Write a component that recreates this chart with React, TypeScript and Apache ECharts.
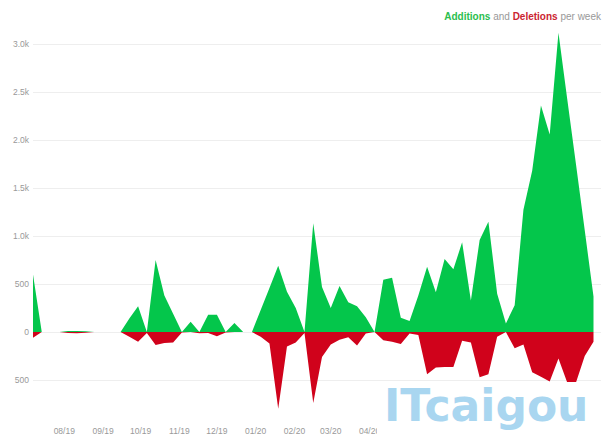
import React, { useEffect, useRef } from 'react';
import * as echarts from 'echarts';

// Week start dates (Sundays)
const weeks: string[] = [
  '2019-07-07', '2019-07-14', '2019-07-21', '2019-07-28', '2019-08-04', '2019-08-11', '2019-08-18', '2019-08-25',
  '2019-09-01', '2019-09-08', '2019-09-15', '2019-09-22', '2019-09-29', '2019-10-06', '2019-10-13', '2019-10-20',
  '2019-10-27', '2019-11-03', '2019-11-10', '2019-11-17', '2019-11-24', '2019-12-01', '2019-12-08', '2019-12-15',
  '2019-12-22', '2019-12-29', '2020-01-05', '2020-01-12', '2020-01-19', '2020-01-26', '2020-02-02', '2020-02-09',
  '2020-02-16', '2020-02-23', '2020-03-01', '2020-03-08', '2020-03-15', '2020-03-22', '2020-03-29', '2020-04-05',
  '2020-04-12', '2020-04-19', '2020-04-26', '2020-05-03', '2020-05-10', '2020-05-17', '2020-05-24', '2020-05-31',
  '2020-06-07', '2020-06-14', '2020-06-21', '2020-06-28', '2020-07-05', '2020-07-12', '2020-07-19', '2020-07-26',
  '2020-08-02', '2020-08-09', '2020-08-16', '2020-08-23', '2020-08-30', '2020-09-06', '2020-09-13', '2020-09-20',
  '2020-09-27',
];

const additions: number[] = [
  600, 0, 0, 0, 10, 12, 8, 0,
  0, 0, 0, 140, 270, 0, 750, 380,
  190, 0, 108, 0, 180, 180, 0, 95,
  0, 0, 230, 460, 690, 420, 250, 0,
  1135, 470, 250, 480, 310, 270, 155, 0,
  545, 565, 150, 115, 380, 680, 415, 760,
  655, 935, 330, 960, 1150, 400, 90, 280,
  1275, 1680, 2360, 2060, 3120, 2430, 1750, 1060,
  370,
];

const deletions: number[] = [
  -60, 0, 0, 0, -10, -12, -8, 0,
  0, 0, 0, -50, -100, -10, -135, -115,
  -110, -5, 0, -12, -10, -45, -5, 0,
  0, 0, -50, -120, -800, -150, -110, -10,
  -740, -260, -130, -80, -55, -140, -15, 0,
  -85, -100, -125, -15, -30, -440, -370, -365,
  -365, -90, -110, -470, -440, -50, 0, -170,
  -130, -420, -465, -515, -275, -525, -525, -250,
  -100,
];

const xMin = '2019-07-07';
const xMax = '2020-10-03';
const yMin = -1000;
const yMax = 3200;
const yStep = 500;

const GREEN = '#04c64b';
const RED = '#d0021b';

const toTime = (s: string) => {
  const [y, m, d] = s.split('-').map(Number);
  return Date.UTC(y, m - 1, d);
};

export default function App() {
  const ref = useRef<HTMLDivElement>(null);
  useEffect(() => {
    document.body.style.margin = '0';
    if (!ref.current) return;
    const chart = echarts.init(ref.current, undefined, { renderer: 'svg' });
    const fmtY = (v: number) => {
      if (v === yMin || v === yMax) return '';
      const a = Math.abs(v);
      return a >= 1000 ? (a / 1000).toFixed(1) + 'k' : String(a);
    };
    const fmtX = (v: number) => {
      const d = new Date(v + 12 * 3600000);
      const mo = d.getUTCMonth() + 1;
      const yr = d.getUTCFullYear() % 100;
      // months after April 2020 sit under the watermark panel
      if (yr === 20 && mo > 4) return '';
      return String(mo).padStart(2, '0') + '/' + String(yr).padStart(2, '0');
    };
    const font = "'Liberation Sans', Arial, sans-serif";
    chart.setOption({
      animation: false,
      textStyle: { fontFamily: font },
      grid: { left: 33, right: 6, top: 25, bottom: 18, containLabel: false },
      xAxis: {
        type: 'time',
        min: toTime(xMin),
        max: toTime(xMax),
        minInterval: 28 * 86400000,
        maxInterval: 31 * 86400000,
        axisLine: { show: false },
        axisTick: { show: false },
        splitLine: { show: false },
        axisLabel: { formatter: fmtX, color: '#999', fontSize: 8.5, margin: -2, hideOverlap: false, fontFamily: font },
      },
      yAxis: {
        type: 'value',
        min: yMin,
        max: yMax,
        interval: yStep,
        axisLine: { show: false },
        axisTick: { show: false },
        axisLabel: { formatter: fmtY, color: '#999', fontSize: 8.5, margin: 4, showMinLabel: false, showMaxLabel: false, fontFamily: font },
        splitLine: { show: true, showMinLine: false, showMaxLine: false, lineStyle: { color: '#eeeeee', width: 1 } },
      },
      series: [
        {
          type: 'line',
          name: 'Additions',
          data: weeks.map((w, i) => [toTime(w), additions[i]]),
          showSymbol: false,
          symbol: 'none',
          lineStyle: { width: 0, color: GREEN },
          itemStyle: { color: GREEN },
          areaStyle: { color: GREEN, opacity: 1 },
          z: 2,
        },
        {
          type: 'line',
          name: 'Deletions',
          data: weeks.map((w, i) => [toTime(w), deletions[i]]),
          showSymbol: false,
          symbol: 'none',
          lineStyle: { width: 0, color: RED },
          itemStyle: { color: RED },
          areaStyle: { color: RED, opacity: 1 },
          z: 3,
        },
      ],
      graphic: [
        {
          type: 'text',
          right: 6,
          top: 11,
          z: 100,
          style: {
            text: '{a|Additions} {n|and} {d|Deletions} {n|per week}',
            fontSize: 10,
            fontFamily: font,
            rich: {
              a: { fontSize: 10, fontWeight: 'bold', fill: '#2cbe4e', fontFamily: font },
              d: { fontSize: 10, fontWeight: 'bold', fill: '#cb2431', fontFamily: font },
              n: { fontSize: 10, fill: '#999', fontFamily: font },
            },
          },
        },
        {
          type: 'rect',
          left: 377,
          top: 382,
          z: 100,
          shape: { width: 230, height: 64 },
          style: { fill: '#ffffff' },
        },
        {
          type: 'text',
          left: 384,
          top: 383,
          z: 101,
          style: {
            text: 'ITcaigou',
            fontSize: 44,
            fontWeight: 'bold',
            fontFamily: "'DejaVu Sans', sans-serif",
            fill: '#a9d6f0',
          },
        },
      ],
    });
    return () => chart.dispose();
  }, []);
  return <div ref={ref} style={{ width: 607, height: 446 }} />;
}
